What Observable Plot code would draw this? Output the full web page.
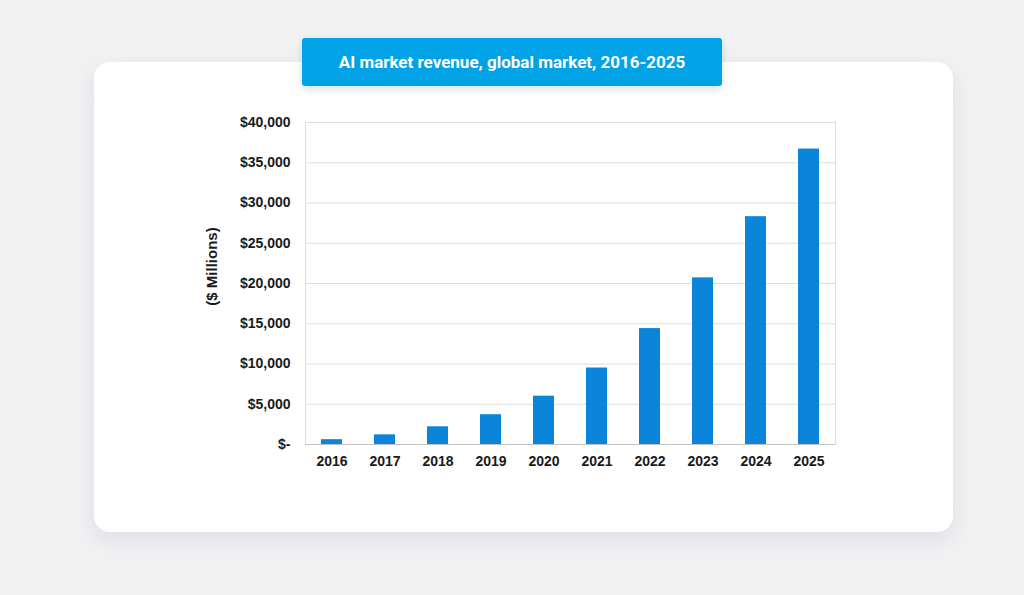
<!DOCTYPE html>
<html>
<head>
<meta charset="utf-8">
<script src="https://cdn.jsdelivr.net/npm/d3@7"></script>
<script src="https://cdn.jsdelivr.net/npm/@observablehq/plot@0.6"></script>
<style>
  html, body { margin: 0; padding: 0; background: #f2f2f3; width: 1024px; height: 595px; overflow: hidden; }
  #card { position: absolute; left: 94px; top: 62px; width: 859px; height: 470px; background: #fff; border-radius: 16px;
          box-shadow: 0 8px 22px rgba(110,110,170,0.16); }
  #title { position: absolute; left: 302px; top: 38px; width: 420px; height: 48px; background: #02a2e6; border-radius: 3px;
           color: #fff; font-family: Roboto, "Open Sans", sans-serif; font-weight: 700; font-size: 17px; line-height: 48px; text-align: center;
           box-shadow: 0 3px 8px rgba(0,90,150,0.18); z-index: 2; }
  #chart { position: absolute; left: 94px; top: 62px; }
  #chart svg { font-family: "Liberation Sans", Arial, sans-serif; font-weight: 700; }
</style>
</head>
<body>
<div id="card"></div>
<div id="title">AI market revenue, global market, 2016-2025</div>
<div id="chart"></div>
<script>
const years = ["2016","2017","2018","2019","2020","2021","2022","2023","2024","2025"];
const revenue = [600, 1200, 2200, 3700, 6000, 9500, 14400, 20700, 28300, 36700];
const yTicks = [0, 5000, 10000, 15000, 20000, 25000, 30000, 35000, 40000];
const yLabel = "($ Millions)";

const data = years.map((y, i) => ({year: y, value: revenue[i]}));
const fmt = d3.format(",");

const chart = Plot.plot({
  width: 859,
  height: 470,
  marginLeft: 211,
  marginRight: 118,
  marginTop: 60,
  marginBottom: 88,
  style: {background: "transparent", fontSize: "14px", color: "#1a1a1a"},
  x: {domain: years, paddingInner: 0.6, paddingOuter: 0.3},
  y: {domain: [0, 40000]},
  marks: [
    Plot.gridY(yTicks, {stroke: "#dedede", strokeOpacity: 1}),
    Plot.frame({stroke: "#dedede"}),
    Plot.barY(data, {x: "year", y: "value", fill: "#0a85d9"}),
    Plot.ruleY([0], {stroke: "#c4c4c4"}),
    Plot.axisY(yTicks, {tickSize: 0, tickPadding: 15, tickFormat: d => d === 0 ? "$-" : "$" + fmt(d),
      label: null, fontSize: 14, fill: "#1a1a1a"}),
    Plot.text([yLabel], {frameAnchor: "left", textAnchor: "middle", rotate: -90, dx: -93, dy: -17, fontSize: 15, fontWeight: 700, fill: "#1a1a1a"}),
    Plot.axisX({tickSize: 0, tickPadding: 12, label: null, fontSize: 14, fill: "#1a1a1a"})
  ]
});
document.getElementById("chart").appendChild(chart);
</script>
</body>
</html>
